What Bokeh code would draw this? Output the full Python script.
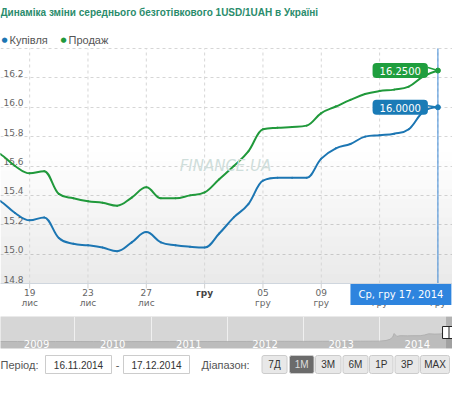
import pandas as pd
from bokeh.plotting import figure
from bokeh.models import Range1d, FixedTicker, Label, Span, BoxAnnotation, ColumnDataSource
from bokeh.layouts import column
from bokeh.embed import file_html
from bokeh.resources import INLINE
from bokeh.core.properties import value

# ---------------- data ----------------
title_text = "Динаміка зміни середнього безготівкового 1USD/1UAH в Україні"
series_names = ["Купівля", "Продаж"]
dates = ["2014-11-16", "2014-11-17", "2014-11-18", "2014-11-19", "2014-11-20", "2014-11-21",
         "2014-11-22", "2014-11-23", "2014-11-24", "2014-11-25", "2014-11-26", "2014-11-27",
         "2014-11-28", "2014-11-29", "2014-11-30", "2014-12-01", "2014-12-02", "2014-12-03",
         "2014-12-04", "2014-12-05", "2014-12-06", "2014-12-07", "2014-12-08", "2014-12-09",
         "2014-12-10", "2014-12-11", "2014-12-12", "2014-12-13", "2014-12-14", "2014-12-15",
         "2014-12-16", "2014-12-17"]
buy = [15.40, 15.36, 15.28, 15.23, 15.25, 15.11, 15.07, 15.06, 15.045, 15.02, 15.08, 15.15,
       15.08, 15.06, 15.05, 15.045, 15.14, 15.25, 15.34, 15.50, 15.52, 15.52, 15.52, 15.65,
       15.72, 15.75, 15.80, 15.81, 15.82, 15.85, 15.97, 16.00]
sell = [15.72, 15.68, 15.60, 15.55, 15.565, 15.41, 15.38, 15.36, 15.35, 15.33, 15.385, 15.455,
        15.38, 15.38, 15.40, 15.42, 15.51, 15.60, 15.70, 15.85, 15.86, 15.865, 15.875, 15.96,
        16.005, 16.05, 16.09, 16.11, 16.12, 16.14, 16.21, 16.25]
y_ticks = [14.8, 15.0, 15.2, 15.4, 15.6, 15.8, 16.0, 16.2, 16.4]
x_tick_dates = ["2014-11-19", "2014-11-23", "2014-11-27", "2014-12-01",
                "2014-12-05", "2014-12-09", "2014-12-13", "2014-12-17"]
x_tick_labels = ["19\nлис", "23\nлис", "27\nлис", "гру", "05\nгру", "09\nгру", "13\nгру", "17\nгру"]
view_start, view_end = "2014-11-17", "2014-12-18"
tooltip_date = "Ср, гру 17, 2014"
watermark = "FINANCE.UA"

nav_dates = ["2009-01-09", "2009-04-01", "2009-07-01", "2009-10-01", "2010-01-01", "2010-04-01",
             "2010-07-01", "2010-10-01", "2011-01-01", "2011-04-01", "2011-07-01", "2011-10-01",
             "2012-01-01", "2012-04-01", "2012-07-01", "2012-10-01", "2013-01-01", "2013-04-01",
             "2013-07-01", "2013-10-01", "2014-01-01", "2014-02-01", "2014-02-20", "2014-03-05",
             "2014-03-12", "2014-03-25", "2014-04-10", "2014-05-15", "2014-06-15", "2014-07-15",
             "2014-08-05", "2014-08-25", "2014-09-20", "2014-10-20", "2014-11-10", "2014-11-17",
             "2014-12-01", "2014-12-17"]
nav_values = [8.0, 8.0, 7.9, 8.0, 8.0, 7.95, 7.92, 7.95, 7.96, 7.97, 7.98, 8.0,
              8.05, 8.05, 8.1, 8.15, 8.1, 8.15, 8.15, 8.2, 8.25, 8.7, 9.5, 11.0,
              13.5, 11.5, 12.0, 11.9, 12.0, 12.0, 12.5, 13.3, 13.1, 13.2, 14.6, 15.68,
              15.42, 16.25]
nav_years = [2009, 2010, 2011, 2012, 2013, 2014]
period_label = "Період:"
period_from, period_to = "16.11.2014", "17.12.2014"
range_label = "Діапазон:"
range_buttons = ["7Д", "1М", "3М", "6М", "1Р", "3Р", "MAX"]
selected_button = "1М"

# ---------------- styles / layout ----------------
BLUE = "#1c76b3"
GREEN = "#20993b"
BLUE_BOX = "#1a7bb6"
GREEN_BOX = "#1f9e3e"
W = 452
H_MAIN = 315
PLOT_TOP, PLOT_BOTTOM = 48, 283

base = pd.Timestamp(view_start)
xd = [(pd.Timestamp(d) - base).days for d in dates]
tick_x = [(pd.Timestamp(d) - base).days for d in x_tick_dates]
x_end = (pd.Timestamp(view_end) - base).days

y_min, y_max = y_ticks[0], y_ticks[-1]
ppu = (PLOT_BOTTOM - PLOT_TOP) / (y_max - y_min)
yr0 = y_min - (H_MAIN - PLOT_BOTTOM) / ppu
yr1 = y_max + PLOT_TOP / ppu


def spline_controls(X, Y, smoothing=1.5):
    """Control points of a smooth (Highcharts-style) spline through the data points."""
    n = len(X)
    den = smoothing + 1
    lcx, lcy, rcx, rcy = list(X), list(Y), list(X), list(Y)
    for i in range(1, n - 1):
        px, py = X[i], Y[i]
        lx, ly = X[i - 1], Y[i - 1]
        nx, ny = X[i + 1], Y[i + 1]
        a_x, a_y = (smoothing * px + lx) / den, (smoothing * py + ly) / den
        b_x, b_y = (smoothing * px + nx) / den, (smoothing * py + ny) / den
        corr = 0.0
        if b_x != a_x:
            corr = ((b_y - a_y) * (b_x - px)) / (b_x - a_x) + py - b_y
        a_y += corr
        b_y += corr
        if a_y > ly and a_y > py:
            a_y = max(ly, py); b_y = 2 * py - a_y
        elif a_y < ly and a_y < py:
            a_y = min(ly, py); b_y = 2 * py - a_y
        if b_y > ny and b_y > py:
            b_y = max(ny, py); a_y = 2 * py - b_y
        elif b_y < ny and b_y < py:
            b_y = min(ny, py); a_y = 2 * py - b_y
        lcx[i], lcy[i], rcx[i], rcy[i] = a_x, a_y, b_x, b_y
    return dict(x0=X[:-1], y0=Y[:-1], x1=X[1:], y1=Y[1:],
                cx0=rcx[:-1], cy0=rcy[:-1], cx1=lcx[1:], cy1=lcy[1:])


# ---------------- main chart ----------------
p = figure(width=W, height=H_MAIN, x_range=Range1d(0, x_end), y_range=Range1d(yr0, yr1),
           output_backend="svg", toolbar_location=None, x_axis_location=None,
           y_axis_location=None, min_border=0)
p.outline_line_color = None
p.background_fill_color = "white"
p.border_fill_color = "white"
p.xgrid.visible = False

n_bands = 14
g_lo, g_hi = y_min, 15.7
for i in range(n_bands):
    b = g_lo + (g_hi - g_lo) * i / n_bands
    t = g_lo + (g_hi - g_lo) * (i + 1) / n_bands
    a = 0.085 * (1 - (i + 0.5) / n_bands)
    p.add_layout(BoxAnnotation(bottom=b, top=t, fill_color="black", fill_alpha=a,
                               line_color=None, level="underlay"))

p.ygrid.ticker = FixedTicker(ticks=y_ticks)
p.ygrid.grid_line_color = "#d6d6d6"
p.ygrid.grid_line_dash = "3 3"

p.segment(x0=tick_x, y0=[y_min] * len(tick_x), x1=tick_x, y1=[y_max] * len(tick_x),
          line_color="#d6d6d6", line_dash="3 3", line_width=1)
tick_len = 5 / ppu
p.segment(x0=tick_x, y0=[y_min - tick_len] * len(tick_x), x1=tick_x, y1=[y_min] * len(tick_x),
          line_color="#d0d0d0", line_width=1)
p.add_layout(Span(location=y_min, dimension="width", line_color="#cfd6de", line_width=1))

day_lab, mon_lab, bold_x, bold_lab = [], [], [], []
for tx, lab in zip(tick_x, x_tick_labels):
    parts = lab.split("\n")
    if len(parts) == 2:
        day_lab.append((tx, parts[0]))
        mon_lab.append((tx, parts[1]))
    else:
        bold_x.append(tx)
        bold_lab.append(parts[0])
p.text(x=[t for t, _ in day_lab], y=[y_min] * len(day_lab), text=[s for _, s in day_lab],
       y_offset=9, text_align="center", text_baseline="middle", text_font=value("DejaVu Sans"),
       text_font_size="9px", text_color="#666666")
p.text(x=[t for t, _ in mon_lab], y=[y_min] * len(mon_lab), text=[s for _, s in mon_lab],
       y_offset=19, text_align="center", text_baseline="middle", text_font=value("DejaVu Sans"),
       text_font_size="9px", text_color="#666666")
p.text(x=bold_x, y=[y_min] * len(bold_x), text=bold_lab, y_offset=9, text_align="center",
       text_baseline="middle", text_font=value("DejaVu Sans"), text_font_size="9px",
       text_font_style="bold", text_color="#444444")

ysrc = ColumnDataSource(dict(x=[0] * (len(y_ticks) - 1), y=y_ticks[:-1],
                             t=[f"{v:.1f}" for v in y_ticks[:-1]]))
p.text(x="x", y="y", text="t", source=ysrc, x_offset=3, y_offset=-1,
       text_baseline="bottom", text_align="left", text_font=value("DejaVu Sans"),
       text_font_size="9px", text_color="#666666")

p.add_layout(Label(x=225, y=H_MAIN - 165, x_units="screen", y_units="screen", text=watermark,
                   text_align="center", text_baseline="middle", text_font="DejaVu Sans",
                   text_font_style="italic", text_font_size="15px", text_color="#cfdedb"))

# series (smooth spline through the daily points)
p.bezier(source=ColumnDataSource(spline_controls(xd, sell)), x0="x0", y0="y0", x1="x1", y1="y1",
         cx0="cx0", cy0="cy0", cx1="cx1", cy1="cy1", line_color=GREEN, line_width=2,
         line_cap="round")
p.bezier(source=ColumnDataSource(spline_controls(xd, buy)), x0="x0", y0="y0", x1="x1", y1="y1",
         cx0="cx0", cy0="cy0", cx1="cx1", cy1="cy1", line_color=BLUE, line_width=2,
         line_cap="round")

last_x = xd[-1]
p.segment(x0=[last_x], y0=[y_min - 22 / ppu], x1=[last_x], y1=[y_max],
          line_color="#3d8ad6", line_width=1)

px_per_day = W / x_end
conn = 10 / px_per_day
p.segment(x0=[last_x - conn, last_x - conn], y0=[sell[-1] + 0.02, buy[-1] + 0.01],
          x1=[last_x, last_x], y1=[sell[-1], buy[-1]], line_color=[GREEN_BOX, BLUE_BOX],
          line_width=1.5)
p.scatter([last_x, last_x], [sell[-1], buy[-1]], size=5, color=[GREEN_BOX, BLUE_BOX])

for v, c in ((sell[-1], GREEN_BOX), (buy[-1], BLUE_BOX)):
    p.add_layout(Label(x=last_x, y=v, x_offset=-10, text=f"{v:.4f}", text_align="right",
                       text_baseline="middle", text_font="DejaVu Sans", text_font_size="10px",
                       text_color="white", background_fill_color=c, border_radius=4,
                       padding={"left": 7, "right": 7, "top": 4, "bottom": 3}))

p.add_layout(Label(x=last_x, y=H_MAIN - 294, x_units="data", y_units="screen", x_offset=-37,
                   text=tooltip_date, text_align="center", text_baseline="middle",
                   text_font="DejaVu Sans", text_font_size="10px", text_color="white",
                   background_fill_color="#2e84de",
                   padding={"left": 8, "right": 8, "top": 5, "bottom": 5}))

p.add_layout(Label(x=0, y=H_MAIN - 12, x_units="screen", y_units="screen", text=title_text,
                   text_baseline="middle", text_font="Liberation Sans", text_font_style="bold",
                   text_font_size="10px", text_color="#2a8c6c"))
for xdot, xt, name, col in ((1, 9, series_names[0], BLUE), (60, 68, series_names[1], GREEN)):
    p.add_layout(Label(x=xdot, y=H_MAIN - 39, x_units="screen", y_units="screen", text="●",
                       text_baseline="middle", text_font="DejaVu Sans", text_font_size="7px",
                       text_color=col))
    p.add_layout(Label(x=xt, y=H_MAIN - 39, x_units="screen", y_units="screen", text=name,
                       text_baseline="middle", text_font="Liberation Sans", text_font_size="11px",
                       text_color="#555555"))

# ---------------- navigator ----------------
nd = [pd.Timestamp(d).to_pydatetime() for d in nav_dates]
ny0, ny1 = 3.2, 25.2
nav = figure(width=W, height=35, x_axis_type="datetime", x_range=Range1d(nd[0], nd[-1]),
             y_range=Range1d(ny0, ny1), x_axis_location=None, y_axis_location=None,
             min_border_left=0, min_border_right=0, min_border_top=1, min_border_bottom=2,
             output_backend="svg", toolbar_location=None)
nav.outline_line_color = None
nav.background_fill_color = "#d6d6d6"
nav.varea(x=nd, y1=[ny0] * len(nd), y2=nav_values, fill_color="#bcbcbc")
nav.line(x=nd, y=nav_values, line_color="#b0b0b0", line_width=1)
year_ms = [pd.Timestamp(f"{y}-01-01").value // 10**6 for y in nav_years[1:]]
nav.xgrid.ticker = FixedTicker(ticks=year_ms)
nav.xgrid.grid_line_color = "#f0f0f0"
nav.ygrid.visible = False
mid_years = [pd.Timestamp(f"{y}-07-01").to_pydatetime() for y in nav_years]
nav.text(x=mid_years, y=[ny0] * len(nav_years), text=[str(y) for y in nav_years],
         y_offset=-1, text_align="center", text_baseline="bottom",
         text_font=value("DejaVu Sans"), text_font_size="10px", text_color="#ffffff")
d, m, yv = period_from.split(".")
sel0 = pd.Timestamp(f"{yv}-{m}-{d}").to_pydatetime()
sel1 = nd[-1]
nav.quad(left=[sel0], right=[sel1], bottom=[ny0], top=[ny1], fill_color="#6f6f6f",
         fill_alpha=0.35, line_color=None)
nav.rect(x=[sel0, sel1], y=[(ny0 + ny1) / 2] * 2, width=7, height=12, width_units="screen",
         height_units="screen", fill_color="white", line_color="#222222", line_width=1)

# ---------------- range selector ----------------
ctrl = figure(width=W, height=27, x_range=Range1d(0, 452), y_range=Range1d(27, 0),
              x_axis_location=None, y_axis_location=None, min_border=0,
              output_backend="svg", toolbar_location=None)
ctrl.outline_line_color = None
ctrl.grid.visible = False
ctrl.text(x=[0], y=[14], text=[period_label], text_baseline="middle",
          text_font=value("Liberation Sans"), text_font_size="11px", text_color="#555555")
ctrl.quad(left=[45, 123], right=[111, 189], top=[5, 5], bottom=[23, 23],
          fill_color="white", line_color="#cccccc")
ctrl.text(x=[78, 156], y=[14, 14], text=[period_from, period_to], text_align="center",
          text_baseline="middle", text_font=value("Liberation Sans"), text_font_size="10px",
          text_color="#333333")
ctrl.text(x=[117], y=[14], text=["-"], text_align="center", text_baseline="middle",
          text_font=value("Liberation Sans"), text_font_size="11px", text_color="#555555")
ctrl.text(x=[201], y=[14], text=[range_label], text_baseline="middle",
          text_font=value("Liberation Sans"), text_font_size="11px", text_color="#555555")
btn_left = [261.5, 289, 315, 342.5, 369, 394.5, 420]
btn_w = [25, 24.5, 25.5, 25, 23.5, 24, 29]
fills = ["#6b6b6b" if b == selected_button else "#e8e8e8" for b in range_buttons]
tcols = ["#dddddd" if b == selected_button else "#333333" for b in range_buttons]
ctrl.quad(left=btn_left, right=[l + w for l, w in zip(btn_left, btn_w)], top=[5] * 7,
          bottom=[23] * 7, fill_color=fills, line_color="#cccccc", border_radius=2)
ctrl.text(x=[l + w / 2 for l, w in zip(btn_left, btn_w)], y=[14] * 7, text=range_buttons,
          text_align="center", text_baseline="middle", text_font=value("Liberation Sans"),
          text_font_size="10px", text_color=tcols)

layout = column(p, nav, ctrl, spacing=0)
open("out.html", "w").write(file_html(layout, INLINE))
